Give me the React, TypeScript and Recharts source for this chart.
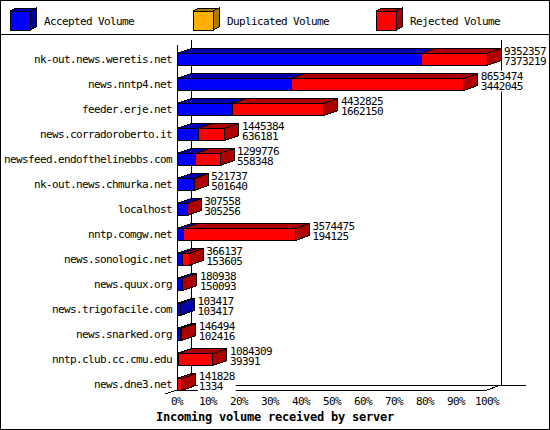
import React from "react";
import { Bar, BarChart, ReferenceArea, XAxis, YAxis } from "recharts";

const hosts = [
  "nk-out.news.weretis.net",
  "news.nntp4.net",
  "feeder.erje.net",
  "news.corradoroberto.it",
  "newsfeed.endofthelinebbs.com",
  "nk-out.news.chmurka.net",
  "localhost",
  "nntp.comgw.net",
  "news.sonologic.net",
  "news.quux.org",
  "news.trigofacile.com",
  "news.snarked.org",
  "nntp.club.cc.cmu.edu",
  "news.dne3.net",
];
const totalVolume = [
  9352357, 8653474, 4432825, 1445384, 1299776, 521737, 307558, 3574475, 366137, 180938, 103417,
  146494, 1084309, 141828,
];
const acceptedVolume = [
  7373219, 3442045, 1662150, 636181, 558348, 501640, 305256, 194125, 153605, 150093, 103417,
  102416, 39391, 1334,
];
const duplicatedVolume = [0, 0, 0, 0, 0, 0, 0, 0, 0, 0, 0, 0, 0, 0];
const rejectedVolume = [
  1979138, 5211429, 2770675, 809203, 741428, 20097, 2302, 3380350, 212532, 30845, 0, 44078,
  1044918, 140494,
];
const percentTicks = [0, 10, 20, 30, 40, 50, 60, 70, 80, 90, 100];

const series = [
  { key: "accepted", name: "Accepted Volume", color: "#0000ff", shade: "#0000ad" },
  { key: "duplicated", name: "Duplicated Volume", color: "#ffb000", shade: "#ad7800" },
  { key: "rejected", name: "Rejected Volume", color: "#ff0000", shade: "#ad0000" },
];

const maxTotal = Math.max(...totalVolume);
const rows = hosts.map((host, i) => ({
  host,
  total: totalVolume[i],
  accepted: acceptedVolume[i],
  duplicated: duplicatedVolume[i],
  rejected: rejectedVolume[i],
}));

// gd-like fixed font: 6px per character
const TXT = { fontFamily: '"DejaVu Sans Mono", monospace', fontSize: 11, letterSpacing: -0.62 };
// 3d depth of the bars
const DX = 14;
const DY = 5;
const SHIFT = 6.5;

function Block({ x, y, width, height, color, shade }: any) {
  if (!(width > 0)) return null;
  const yf = y + SHIFT;
  const x2 = x + width;
  return (
    <g stroke="#000" strokeWidth={1} shapeRendering="crispEdges">
      <polygon points={`${x},${yf} ${x + DX},${yf - DY} ${x2 + DX},${yf - DY} ${x2},${yf}`} fill={shade} />
      <polygon
        points={`${x2},${yf} ${x2 + DX},${yf - DY} ${x2 + DX},${yf - DY + height} ${x2},${yf + height}`}
        fill={shade}
      />
      <rect x={x} y={yf} width={width} height={height} fill={color} />
    </g>
  );
}

function AcceptedBlock(props: any) {
  const { x, y, width, payload } = props;
  const yf = y + SHIFT;
  const endX = x + width * (payload.total / payload.accepted);
  const lx = endX + DX + 3;
  const chars = Math.max(String(payload.total).length, String(payload.accepted).length);
  return (
    <g>
      <Block {...props} color={series[0].color} shade={series[0].shade} />
      <rect x={lx - 1} y={yf - 8} width={chars * 6 + 2} height={21} fill="#fff" />
      <g {...TXT} fill="#000">
        <text x={lx} y={yf - 2.5} dominantBaseline="central">
          {payload.total}
        </text>
        <text x={lx} y={yf + 8} dominantBaseline="central">
          {payload.accepted}
        </text>
      </g>
    </g>
  );
}

function Frame({ x, y, width, height }: any) {
  const b = y + height;
  const r = x + width;
  return (
    <g stroke="#000" strokeWidth={1} fill="none" shapeRendering="crispEdges">
      <line x1={x} y1={y + DY} x2={x} y2={b} />
      <line x1={x + DX} y1={y} x2={x + DX} y2={b - DY} />
      <line x1={r + DX} y1={y} x2={r + DX} y2={b - DY} />
      <line x1={x + DX} y1={b - DY} x2={r + DX + 25} y2={b - DY} />
      <line x1={r} y1={b} x2={r + DX} y2={b - DY} />
      <line x1={x - 12} y1={b + 4} x2={x} y2={b} />
      <line x1={x} y1={b} x2={r} y2={b} />
    </g>
  );
}

function HostTick({ x, y, payload }: any) {
  return (
    <text x={x} y={y + SHIFT} textAnchor="end" dominantBaseline="central" {...TXT} fill="#000">
      {payload.value}
    </text>
  );
}

function PercentTick({ x, y, payload }: any) {
  return (
    <text x={x} y={y + 11.7} textAnchor="middle" dominantBaseline="central" {...TXT} fill="#000">
      {`${Math.round((payload.value / maxTotal) * 100)}%`}
    </text>
  );
}

function Overlay() {
  return (
    <svg width={550} height={430} style={{ position: "absolute", left: 0, top: 0 }}>
      <rect x={0.5} y={0.5} width={549} height={429} fill="#fff" stroke="#000" />
      <line x1={0} y1={34.5} x2={550} y2={34.5} stroke="#000" />
      {series.map((s, i) => {
        const bx = 10 + i * 183;
        return (
          <g key={s.key}>
            <g stroke="#000" shapeRendering="crispEdges">
              <polygon points={`${bx},11 ${bx + 6},8 ${bx + 26},8 ${bx + 20},11`} fill={s.shade} />
              <polygon points={`${bx + 20},11 ${bx + 26},8 ${bx + 26},27 ${bx + 20},30`} fill={s.shade} />
              <rect x={bx} y={11} width={20} height={19} fill={s.color} />
            </g>
            <text x={bx + 34} y={21} dominantBaseline="central" {...TXT} fill="#000">
              {s.name}
            </text>
          </g>
        );
      })}
      <text
        x={275}
        y={417}
        textAnchor="middle"
        dominantBaseline="central"
        fontFamily='"DejaVu Sans Mono", monospace'
        fontSize={12}
        letterSpacing={-0.22}
        fontWeight="bold"
        fill="#000"
      >
        Incoming volume received by server
      </text>
    </svg>
  );
}

export default function App() {
  return (
    <div style={{ position: "absolute", left: 0, top: 0, width: 550, height: 430, background: "#fff" }}>
      <Overlay />
      <div style={{ position: "absolute", left: 0, top: 0 }}>
        <BarChart
          width={550}
          height={430}
          layout="vertical"
          data={rows}
          barSize={12}
          margin={{ top: 40, right: 63, bottom: 10, left: 0 }}
        >
          <XAxis
            type="number"
            domain={[0, maxTotal]}
            ticks={percentTicks.map((p) => (p / 100) * maxTotal)}
            tick={<PercentTick />}
            interval={0}
            axisLine={false}
            tickLine={false}
            tickSize={0}
            tickMargin={0}
            height={30}
          />
          <YAxis
            type="category"
            dataKey="host"
            width={177}
            tick={<HostTick />}
            axisLine={false}
            tickLine={false}
            tickSize={0}
            tickMargin={5}
            interval={0}
          />
          <ReferenceArea x1={0} x2={maxTotal} shape={<Frame />} ifOverflow="visible" zIndex={-10} />
          <Bar dataKey="accepted" stackId="vol" isAnimationActive={false} shape={<AcceptedBlock />} />
          <Bar
            dataKey="duplicated"
            stackId="vol"
            isAnimationActive={false}
            shape={<Block color={series[1].color} shade={series[1].shade} />}
          />
          <Bar
            dataKey="rejected"
            stackId="vol"
            isAnimationActive={false}
            shape={<Block color={series[2].color} shade={series[2].shade} />}
          />
        </BarChart>
      </div>
    </div>
  );
}
